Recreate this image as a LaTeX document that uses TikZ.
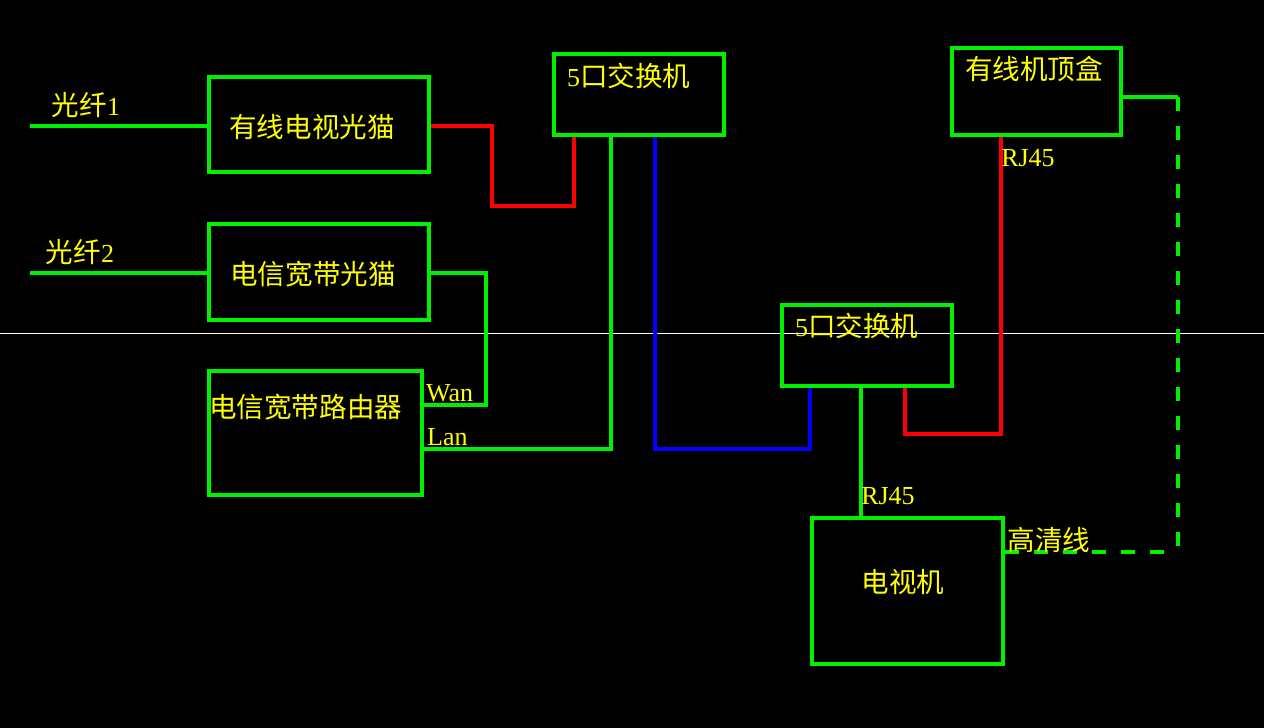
\documentclass[tikz,border=0pt]{standalone}
\usepackage{fontspec}
\setmainfont{Liberation Serif}
\newfontfamily\cjk[Scale=1.06]{Noto Sans CJK SC}

\definecolor{wire}{RGB}{0,240,0}
\definecolor{txtyellow}{RGB}{255,255,0}

\begin{document}
\begin{tikzpicture}[x=1pt, y=-1pt,
  box/.style = {draw=wire, line width=3.5pt, shape=rectangle,
    anchor=north west, inner sep=0pt, text=txtyellow},
  txt/.style = {text=txtyellow, inner sep=0pt,
    font=\fontsize{26}{30}\selectfont},
  gline/.style = {draw=wire, line width=3.5pt},
  rline/.style = {draw=red, line width=3.5pt},
  bline/.style = {draw=blue, line width=3.5pt},
  hdmi/.style = {draw=wire, line width=3.5pt, dash pattern=on 14pt off 15pt}]
  \fill[black] (0,0) rectangle (1264,728);
  \useasboundingbox (0,0) rectangle (1264,728);
  \draw[white, line width=0.8pt] (0,333) -- (1264,333);

  % boxes
  \node[box, minimum width=220pt, minimum height=95pt] (tvmodem) at (207,75) {};
  \node[box, minimum width=220pt, minimum height=96pt] (netmodem) at (207,222) {};
  \node[box, minimum width=213pt, minimum height=124pt] (router) at (207,369) {};
  \node[box, minimum width=170pt, minimum height=81pt] (switchA) at (552,52) {};
  \node[box, minimum width=169pt, minimum height=87pt] (stb) at (950,46) {};
  \node[box, minimum width=170pt, minimum height=81pt] (switchB) at (780,303) {};
  \node[box, minimum width=191pt, minimum height=146pt] (tv) at (810,516) {};

  % box texts
  \node[txt] (tvmodemtxt) at (312,127) {\cjk 有线电视光猫};
  \node[txt] (netmodemtxt) at (313,274) {\cjk 电信宽带光猫};
  \node[txt, anchor=west] (routertxt) at (209,407) {\cjk 电信宽带路由器};
  \node[txt, anchor=west] (switchAtxt) at (567,76) {5{\cjk 口交换机}};
  \node[txt] (stbtxt) at (1034,69) {\cjk 有线机顶盒};
  \node[txt, anchor=west] (switchBtxt) at (795,326) {5{\cjk 口交换机}};
  \node[txt] (tvtxt) at (903,582) {\cjk 电视机};

  % fibres
  \coordinate (fibre1) at (30,126);
  \coordinate (fibre2) at (30,273);
  \draw[gline] (fibre1) -- (fibre1 -| tvmodem.west);
  \draw[gline] (fibre2) -- (fibre2 -| netmodem.west);
  \node[txt] (fibre1txt) at (86,105) {{\cjk 光纤}1};
  \node[txt] (fibre2txt) at (80,252) {{\cjk 光纤}2};

  % connectors
  \draw[rline] (tvmodem.east |- 0,126) -- (492,126) -- (492,206) -- (574,206)
    -- (574,0 |- switchA.south);
  \draw[gline] (netmodem.east |- 0,273) -- (486,273) -- (486,405)
    -- (router.east |- 0,405);
  \draw[gline] (router.east |- 0,449) -- (611,449) -- (611,0 |- switchA.south);
  \draw[bline] (655,0 |- switchA.south) -- (655,449) -- (810,449)
    -- (810,0 |- switchB.south);
  \draw[gline] (861,0 |- switchB.south) -- (861,0 |- tv.north);
  \draw[rline] (905,0 |- switchB.south) -- (905,434) -- (1001,434)
    -- (1001,0 |- stb.south);
  \draw[gline] (stb.east |- 0,97) -- (1178,97);
  \coordinate (hdmicorner) at (1178,552);
  \draw[hdmi] (1178,97) -- (hdmicorner);
  \draw[hdmi] (tv.east |- hdmicorner) -- (hdmicorner);

  \node[txt, anchor=west] (wantxt) at (426,393) {Wan};
  \node[txt, anchor=west] (lantxt) at (427,437) {Lan};
  \node[txt] (rj45a) at (1028,158) {RJ45};
  \node[txt] (rj45b) at (888,496) {RJ45};
  \node[txt] (hdmitxt) at (1049,540) {\cjk 高清线};
\end{tikzpicture}
\end{document}
